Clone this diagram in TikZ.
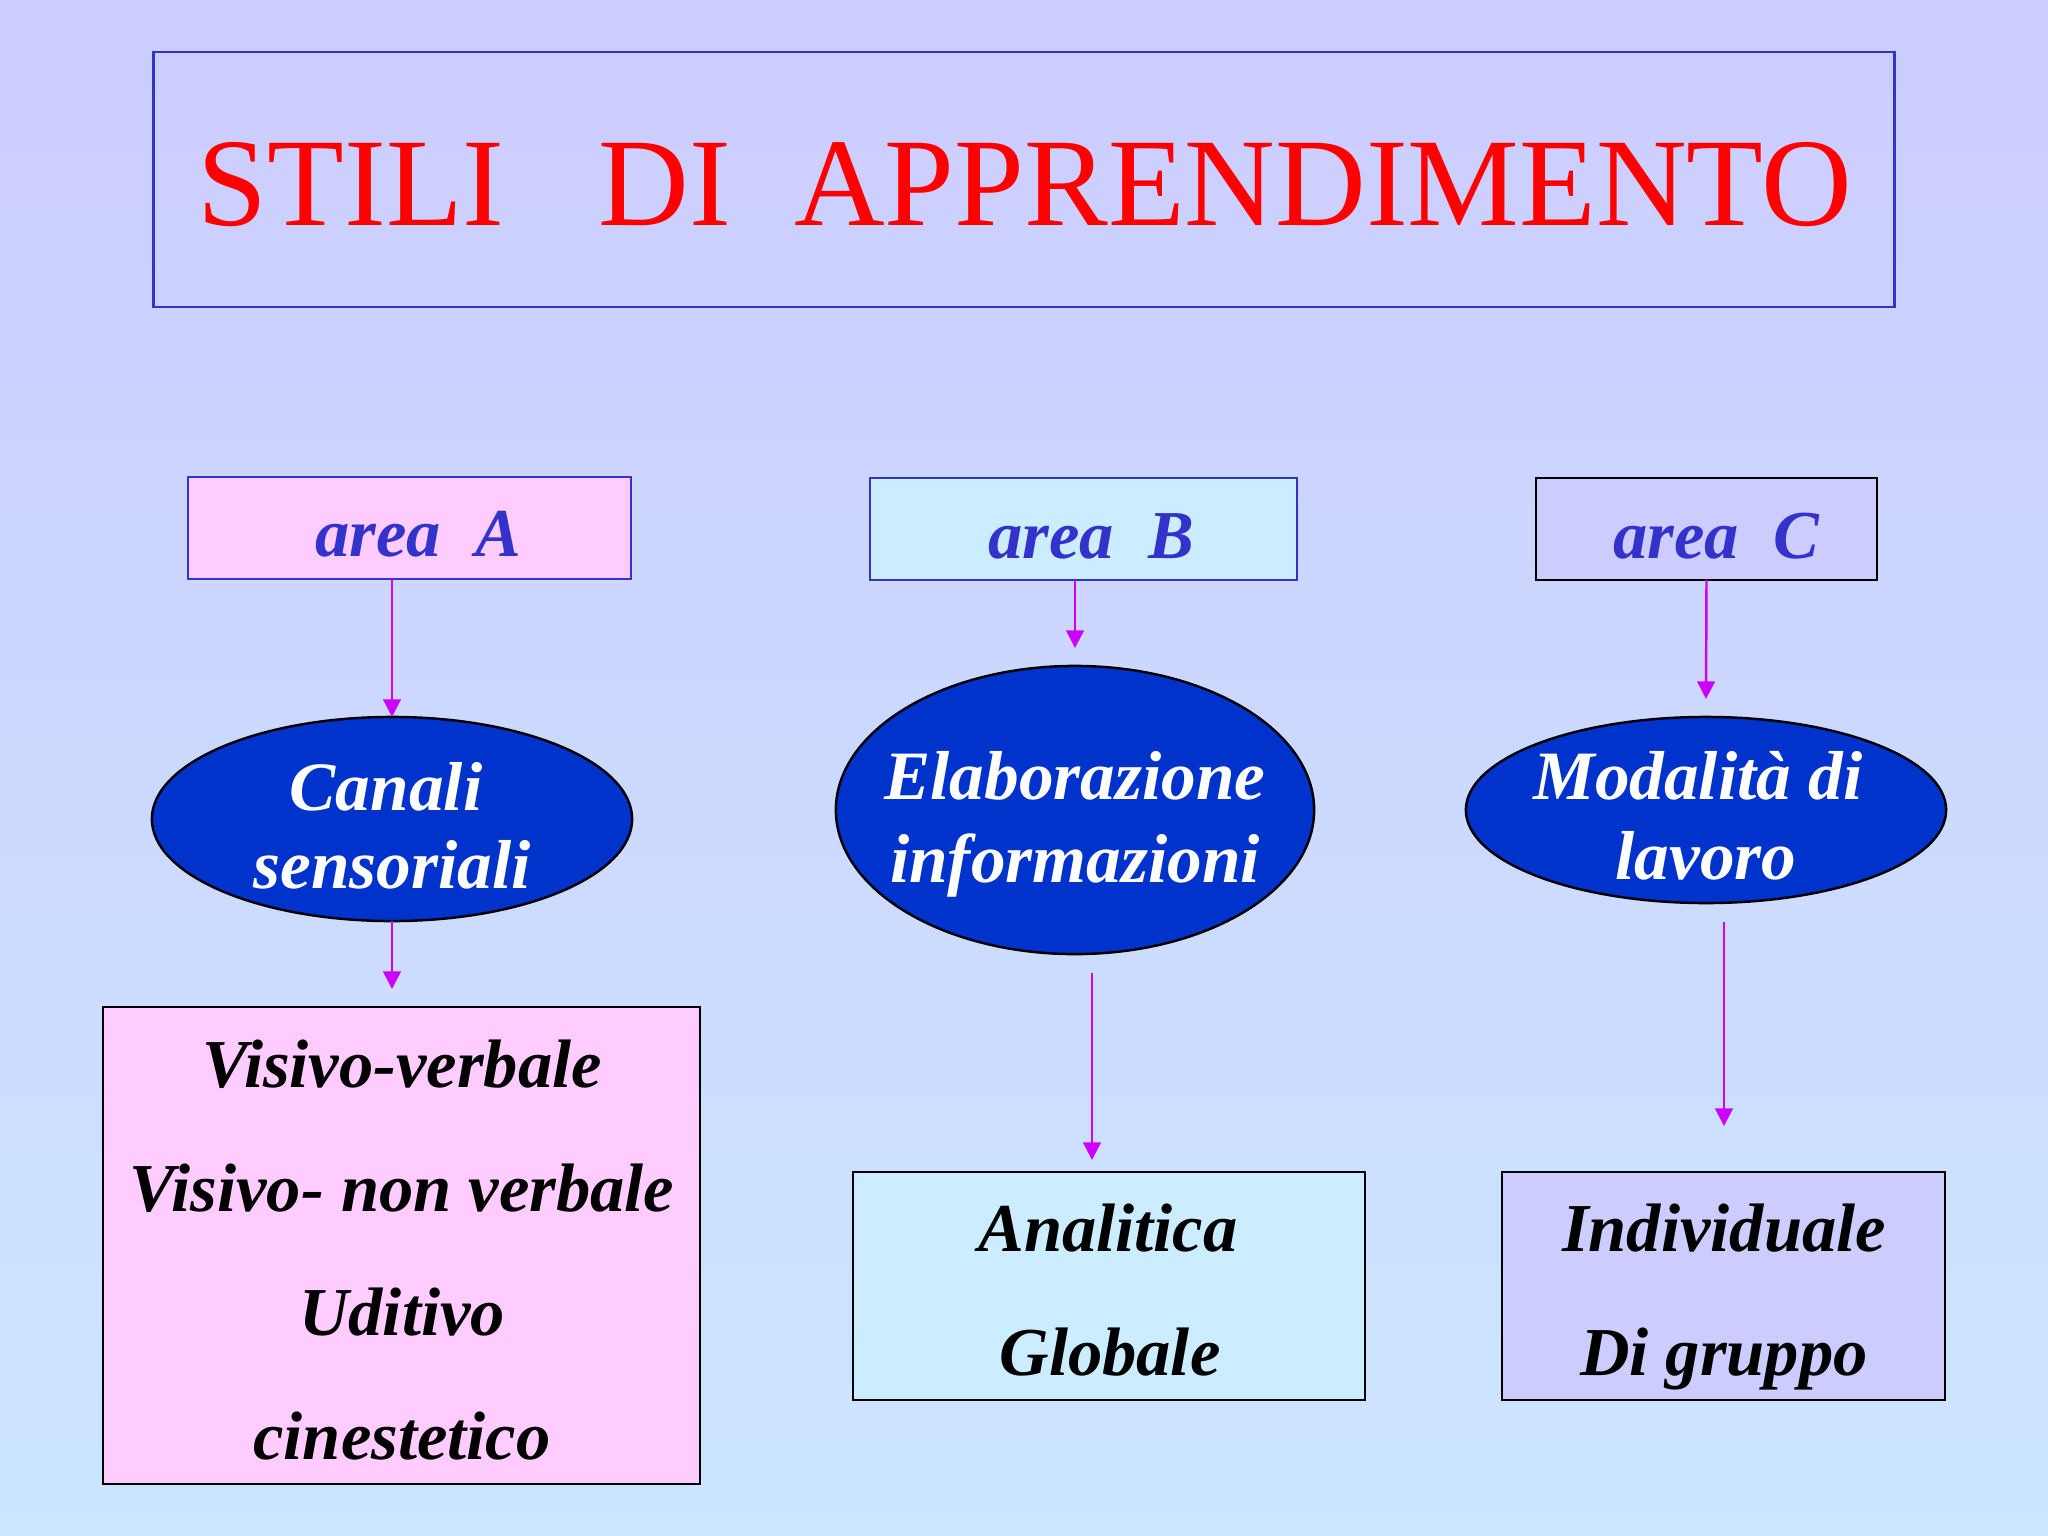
\documentclass[tikz,border=0pt]{standalone}
\usepackage{fontspec}
\setmainfont{Liberation Serif}
\usetikzlibrary{shapes.geometric,arrows.meta}
\definecolor{bgtop}{RGB}{204,204,255}
\definecolor{bgbot}{RGB}{204,230,255}
\definecolor{pinkf}{RGB}{255,204,255}
\definecolor{cyanf}{RGB}{204,236,255}
\definecolor{lavf}{RGB}{204,204,255}
\definecolor{areatxt}{RGB}{51,51,204}
\definecolor{edgeblue}{RGB}{51,51,204}
\definecolor{ellfill}{RGB}{0,51,204}
\definecolor{arrowc}{RGB}{204,0,255}
\begin{document}
\begin{tikzpicture}[x=0.01cm,y=-0.01cm,
  box/.style={rectangle,inner sep=0pt,outer sep=0pt,line width=0.6pt},
  ell/.style={ellipse,inner sep=0pt,outer sep=0pt,draw=black,fill=ellfill,line width=0.7pt},
  arr/.style={draw=arrowc,line width=0.7pt,-{Triangle[length=5pt,width=5pt]}},
  areatext/.style={anchor=base,text=areatxt,font=\fontsize{19.5pt}{23pt}\selectfont\bfseries\itshape},
  elltext/.style={anchor=base,text=white,font=\fontsize{19.7pt}{24pt}\selectfont\bfseries\itshape},
  listtext/.style={anchor=base,text=black,font=\fontsize{19.5pt}{23pt}\selectfont\bfseries\itshape}]
\shade[top color=bgtop,bottom color=bgbot] (0,0) rectangle (2048,1536);
\useasboundingbox (0,0) rectangle (2048,1536);
% title
\node[box,draw=edgeblue,minimum width=17.40cm,minimum height=2.55cm] (title) at (1024,179.5) {};
\node[anchor=base,text=red,font=\fontsize{35.7pt}{43pt}\selectfont] (titletext) at (1025,225) {STILI\ \ \ DI\ \ APPRENDIMENTO};
% area boxes
\node[box,draw=edgeblue,fill=pinkf,minimum width=4.43cm,minimum height=1.02cm] (areaA) at (409.5,528) {};
\node[box,draw=edgeblue,fill=cyanf,minimum width=4.27cm,minimum height=1.02cm] (areaB) at (1083.5,529) {};
\node[box,draw=black,fill=lavf,minimum width=3.41cm,minimum height=1.02cm] (areaC) at (1706.5,529) {};
\node[areatext] (tA) at (418,556) {area\ \ A};
\node[areatext] (tB) at (1091,558) {area\ \ B};
\node[areatext] (tC) at (1716,558) {area\ \ C};
% ellipses
\node[ell,minimum width=4.80cm,minimum height=2.04cm] (ellA) at (392,819) {};
\node[ell,minimum width=4.78cm,minimum height=2.88cm] (ellB) at (1075,810) {};
\node[ell,minimum width=4.80cm,minimum height=1.86cm] (ellC) at (1706,810) {};
\node[elltext] (eA1) at (386,810) {Canali};
\node[elltext] (eA2) at (392,888) {sensoriali};
\node[elltext] (eB1) at (1075,799) {Elaborazione};
\node[elltext] (eB2) at (1075,882) {informazioni};
\node[elltext] (eC1) at (1698,799) {Modalità di};
\node[elltext] (eC2) at (1706,879) {lavoro};
% bottom boxes
\node[box,draw=black,fill=pinkf,minimum width=5.97cm,minimum height=4.77cm] (boxA) at (401.5,1245.5) {};
\node[box,draw=black,fill=cyanf,minimum width=5.12cm,minimum height=2.28cm] (boxB) at (1109,1286) {};
\node[box,draw=black,fill=lavf,minimum width=4.43cm,minimum height=2.28cm] (boxC) at (1723.5,1286) {};
\node[listtext] (lA1) at (402,1087) {Visivo-verbale};
\node[listtext] (lA2) at (402,1211) {Visivo- non verbale};
\node[listtext] (lA3) at (402,1335) {Uditivo};
\node[listtext] (lA4) at (402,1459) {cinestetico};
\node[listtext] (lB1) at (1108,1251) {Analitica};
\node[listtext] (lB2) at (1110,1375) {Globale};
\node[listtext] (lC1) at (1724,1251) {Individuale};
\node[listtext] (lC2) at (1724,1375) {Di gruppo};
% connector end points
\coordinate (a2end) at (392,989);
\coordinate (b1end) at (1075,648);
\coordinate (b2start) at (1092,973);
\coordinate (b2end) at (1092,1160);
\coordinate (c1end) at (1706,699);
\coordinate (c2start) at (1724,922);
\coordinate (c2end) at (1724,1126);
% arrows
\draw[arr] (ellA.north |- areaA.south) -- (ellA.north);
\draw[arr] (ellA.south) -- (a2end);
\draw[arr] (ellB.north |- areaB.south) -- (b1end);
\draw[arr] (b2start) -- (b2end);
\draw[arr] (areaC.south) -- (c1end);
\draw[arr] (c2start) -- (c2end);
\end{tikzpicture}
\end{document}
